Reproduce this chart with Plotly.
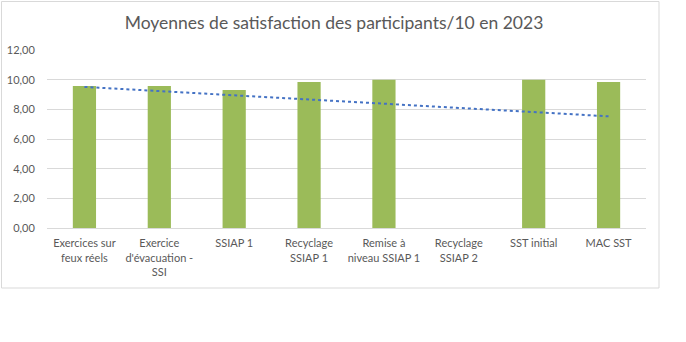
import numpy as np
import plotly.graph_objects as go

categories = [
    "Exercices sur<br>feux réels",
    "Exercice<br>d'évacuation -<br>SSI",
    "SSIAP 1",
    "Recyclage<br>SSIAP 1",
    "Remise à<br>niveau SSIAP 1",
    "Recyclage<br>SSIAP 2",
    "SST initial",
    "MAC SST",
]
values = [9.58, 9.58, 9.31, 9.85, 10.0, 0.0, 10.0, 9.85]
y_ticks = [0, 2, 4, 6, 8, 10, 12]
y_tick_labels = ["0,00", "2,00", "4,00", "6,00", "8,00", "10,00", "12,00"]
title_text = "Moyennes de satisfaction des participants/10 en 2023"

W, H = 686, 342
L, R, T, B = 47, 40, 50, 114

# Linear trendline (as Excel computes it over category indices)
idx = np.arange(1, len(values) + 1)
slope, intercept = np.polyfit(idx, values, 1)
trend = slope * idx + intercept

fig = go.Figure()
fig.add_trace(go.Bar(
    x=list(range(len(categories))), y=values,
    marker=dict(color="#9bbb59", line=dict(width=0)),
    width=0.31, showlegend=False,
))
fig.add_trace(go.Scatter(
    x=list(range(len(categories))), y=trend, mode="lines",
    line=dict(color="#4472c4", width=2, dash="dot"),
    showlegend=False,
))

def px_to_paper_x(px):
    return (px - L) / (W - L - R)

def px_to_paper_y(py):
    return (H - B - py) / (H - T - B)

fig.add_shape(
    type="rect", xref="paper", yref="paper",
    x0=px_to_paper_x(1.5), x1=px_to_paper_x(659),
    y0=px_to_paper_y(288), y1=px_to_paper_y(1.5),
    line=dict(color="#d9d9d9", width=1), fillcolor="rgba(0,0,0,0)",
    layer="below",
)

fig.update_layout(
    width=W, height=H,
    margin=dict(l=L, r=R, t=T, b=B, autoexpand=False),
    paper_bgcolor="white", plot_bgcolor="white",
    font=dict(family="Lato", color="#595959", size=11),
    title=dict(text=title_text, x=px_to_paper_x(334), xref="paper",
               xanchor="center", y=1 - 23 / H, yanchor="middle",
               font=dict(family="Lato", size=17.5, color="#595959")),
    showlegend=False,
)
fig.update_xaxes(
    tickmode="array", tickvals=list(range(len(categories))), ticktext=categories,
    range=[-0.5, len(categories) - 0.5],
    showline=True, linecolor="#d9d9d9", linewidth=1,
    showgrid=False, zeroline=False, automargin=False,
    ticks="outside", ticklen=5, tickcolor="rgba(0,0,0,0)",
    tickfont=dict(family="Lato", size=11, color="#595959"),
    tickangle=0,
)
fig.update_yaxes(
    range=[0, 12], tickmode="array", tickvals=y_ticks, ticktext=y_tick_labels,
    showgrid=True, gridcolor="#d9d9d9", gridwidth=1,
    zeroline=False, showline=False, automargin=False,
    ticks="outside", ticklen=9, tickcolor="rgba(0,0,0,0)",
    tickfont=dict(family="Lato", size=11, color="#595959"),
)

fig.write_html("out.html")
